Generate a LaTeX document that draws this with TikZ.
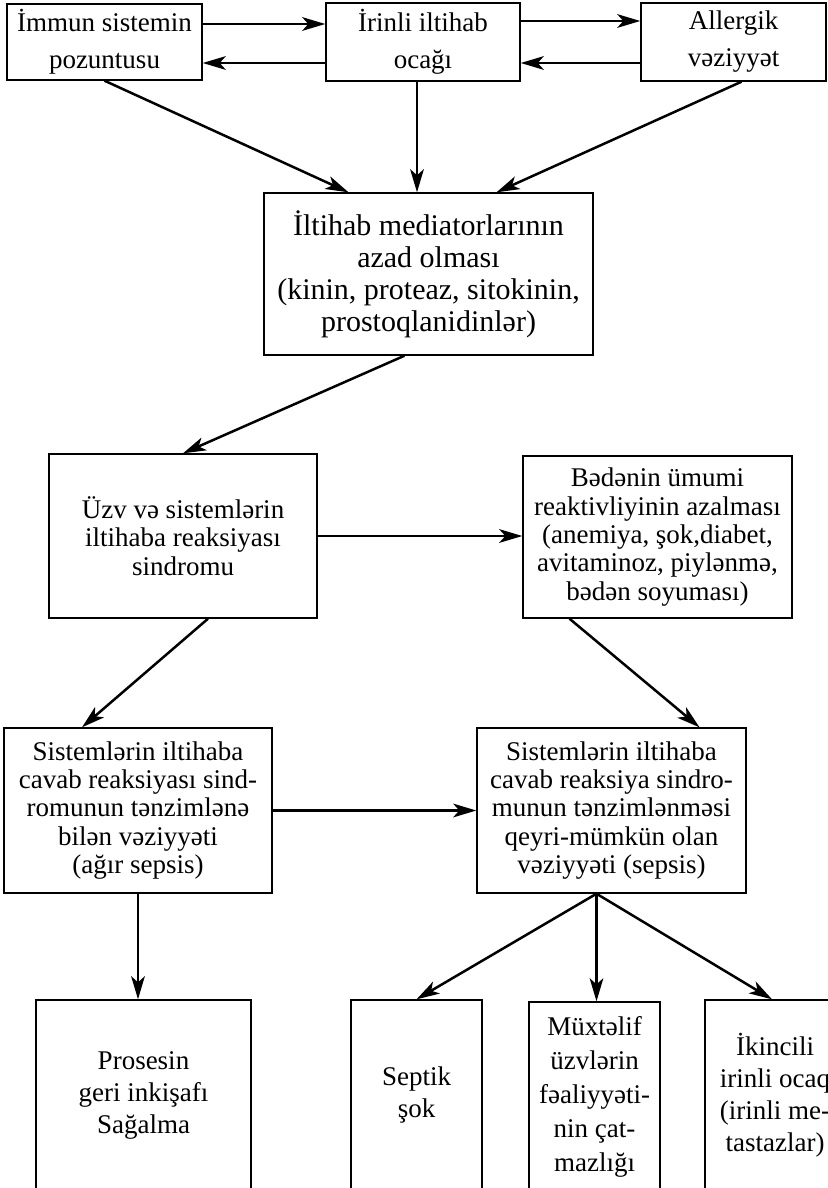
\documentclass[tikz,border=0pt]{standalone}
\usepackage{fontspec}
\setmainfont{Liberation Serif}
\usetikzlibrary{arrows.meta,calc,positioning}

\begin{document}
\begin{tikzpicture}[
  x=0.5pt, y=-0.5pt,
  every node/.style={font=\fontsize{13.5}{14.2}\selectfont},
  box/.style={draw, line width=0.7pt, align=center, inner sep=0pt},
  arr/.style={-{Stealth[length=11.5pt,width=6.8pt,inset=3pt]}, line width=1.25pt},
  harr/.style={arr, line width=1.45pt}
]
\useasboundingbox (0,0) rectangle (828,1188);
\clip (0,0) rectangle (828,1188);
\node[box, minimum width=97.5pt, minimum height=38pt,
 font=\fontsize{13.5}{18.5}\selectfont] (immun) at (104.5,42) {İmmun sistemin\\pozuntusu};
\node[box, minimum width=97pt, minimum height=39pt,
 font=\fontsize{13.5}{18.5}\selectfont] (ocaq) at (423,42) {İrinli iltihab\\ocağı};
\node[box, minimum width=92.5pt, minimum height=39pt,
 font=\fontsize{13.5}{18.5}\selectfont] (allerg) at (733.5,42) {Allergik\\vəziyyət};
\node[box, minimum width=164.5pt, minimum height=81pt,
 font=\fontsize{15}{16}\selectfont] (med) at (428.5,274)
 {İltihab mediatorlarının\\azad olması\\(kinin, proteaz, sitokinin,\\prostoqlanidinlər)};
\node[box, minimum width=134pt, minimum height=82pt] (uzv) at (183,536)
 {Üzv və sistemlərin\\iltihaba reaksiyası\\sindromu};
\node[box, minimum width=134.5pt, minimum height=81pt] (beden) at (657.5,537)
 {Bədənin ümumi\\reaktivliyinin azalması\\(anemiya, şok,diabet,\\avitaminoz, piylənmə,\\bədən soyuması)};
\node[box, minimum width=134pt, minimum height=82.5pt] (tenz) at (138,810.5)
 {Sistemlərin iltihaba\\cavab reaksiyası sind-\\romunun tənzimlənə\\bilən vəziyyəti\\(ağır sepsis)};
\node[box, minimum width=134.5pt, minimum height=82.5pt] (sepsis) at (611.5,810.5)
 {Sistemlərin iltihaba\\cavab reaksiya sindro-\\munun tənzimlənməsi\\qeyri-mümkün olan\\vəziyyəti (sepsis)};
\node[box, minimum width=107.5pt, minimum height=95pt,
 font=\fontsize{13.5}{16}\selectfont] (sag) at (143.5,1095) {Prosesin\\geri inkişafı\\Sağalma};
\node[box, minimum width=65.5pt, minimum height=95pt,
 font=\fontsize{13.5}{16}\selectfont] (septik) at (416.5,1095) {Septik\\şok};
\node[box, minimum width=65.5pt, minimum height=95pt,
 font=\fontsize{13.5}{17}\selectfont] (muxt) at (594.5,1097)
 {Müxtəlif\\üzvlərin\\fəaliyyəti-\\nin çat-\\mazlığı};
\node[box, minimum width=70pt, minimum height=95pt,
 font=\fontsize{13.5}{16}\selectfont] (ikin) at (775,1095)
 {İkincili\\irinli ocaq\\(irinli me-\\tastazlar)};
\draw[harr] ([yshift=9pt]immun.east) -- ([yshift=9pt]immun.east -| ocaq.west);
\draw[harr] ([yshift=-10.5pt]ocaq.west) -- ([yshift=-10.5pt]ocaq.west -| immun.east);
\draw[harr] ([yshift=10.5pt]ocaq.east) -- ([yshift=10.5pt]ocaq.east -| allerg.west);
\draw[harr] ([yshift=-10.5pt]allerg.west) -- ([yshift=-10.5pt]allerg.west -| ocaq.east);
\draw[arr] (immun.south) -- ([xshift=-40pt]med.north);
\draw[arr] ([xshift=-3pt]ocaq.south) -- ([xshift=-3pt]ocaq.south |- med.north);
\draw[arr] ([xshift=4pt]allerg.south) -- ([xshift=34pt]med.north);
\draw[arr] ([xshift=-12pt]med.south) -- (uzv.north);
\draw[harr] (uzv.east) -- (uzv.east -| beden.west);
\draw[arr] ([xshift=12.5pt]uzv.south) -- ([xshift=-28pt]tenz.north);
\draw[arr] ([xshift=-44pt]beden.south) -- ([xshift=44pt]sepsis.north);
\draw[harr] (tenz.east) -- (sepsis.west);
\draw[arr] (tenz.south) -- (tenz.south |- sag.north);
\draw[arr] ([xshift=-7.5pt]sepsis.south) -- (septik.north);
\draw[arr] ([xshift=-7.5pt]sepsis.south) -- ([xshift=-7.5pt]sepsis.south |- muxt.north);
\draw[arr] ([xshift=-7.5pt]sepsis.south) -- ([xshift=-1.5pt]ikin.north);
\end{tikzpicture}
\end{document}
